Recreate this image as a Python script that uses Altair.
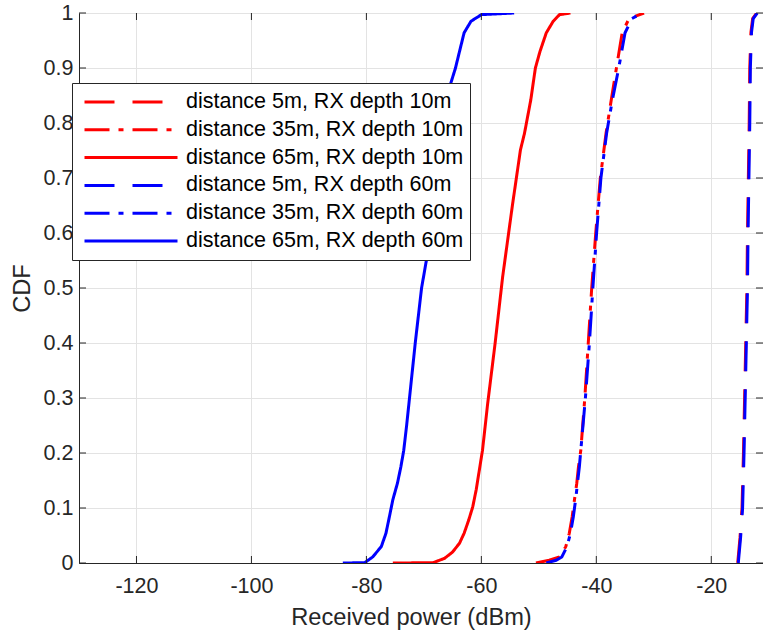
import altair as alt
import pandas as pd

# ---------------- data ----------------
SERIES = [
    "distance 5m, RX depth 10m",
    "distance 35m, RX depth 10m",
    "distance 65m, RX depth 10m",
    "distance 5m, RX depth 60m",
    "distance 35m, RX depth 60m",
    "distance 65m, RX depth 60m",
]
COLORS = ["#ff0000", "#ff0000", "#ff0000", "#0000ff", "#0000ff", "#0000ff"]
DASHES = [[30, 18], [25, 9, 5, 9], [1, 0], [30, 18], [25, 9, 5, 9], [1, 0]]

XTICKS = [-120, -100, -80, -60, -40, -20]
YTICKS = [0, 0.1, 0.2, 0.3, 0.4, 0.5, 0.6, 0.7, 0.8, 0.9, 1]

# distance 5m, RX depth 10m (red dashed, nearly hidden under blue dashed)
red5_x = [-15.4, -15.0, -14.65, -14.4, -14.2, -14.0, -13.8, -13.7, -13.55, -13.4, -13.3, -13.1, -12.8, -12.1]
red5_cdf = [0, 0.046, 0.1, 0.2, 0.3, 0.4, 0.5, 0.6, 0.7, 0.8, 0.9, 0.965, 0.99, 1.0]

# distance 35m, RX depth 10m (red dash-dot)
red35_x = [-50.5, -48.2, -46.4, -45.3, -44.7, -44.2, -43.8, -43.4, -43.1, -42.7, -42.0,
           -41.4, -40.8, -40.1, -39.3, -38.3, -37.4, -36.5, -35.5, -34.3, -31.7]
red35_cdf = [0, 0.005, 0.011, 0.03, 0.054, 0.084, 0.115, 0.145, 0.175, 0.205, 0.3,
             0.4, 0.5, 0.6, 0.7, 0.782, 0.842, 0.9, 0.964, 0.99, 1.0]

# distance 65m, RX depth 10m (red solid)
red65_x = [-75.4, -68.4, -66.4, -65.0, -63.8, -63.0, -62.2, -61.5, -60.9, -60.35, -59.8,
           -58.9, -57.6, -56.3, -54.6, -53.2, -52.5, -51.4, -50.6, -49.8, -48.7, -47.5,
           -46.4, -44.5]
red65_cdf = [0, 0.0005, 0.0085, 0.02, 0.036, 0.054, 0.078, 0.102, 0.133, 0.169, 0.205,
             0.29, 0.4, 0.52, 0.65, 0.751, 0.781, 0.842, 0.9, 0.93, 0.964, 0.985,
             0.997, 1.0]

# distance 5m, RX depth 60m (blue dashed)
blue5_x = [-15.3, -14.9, -14.55, -14.3, -14.1, -13.9, -13.7, -13.6, -13.45, -13.3, -13.2, -13.0, -12.7, -12.0]
blue5_cdf = [0, 0.046, 0.1, 0.2, 0.3, 0.4, 0.5, 0.6, 0.7, 0.8, 0.9, 0.965, 0.99, 1.0]

# distance 35m, RX depth 60m (blue dash-dot)
blue35_x = [-48.7, -47.0, -46.0, -45.1, -44.5, -44.0, -43.6, -42.95, -41.9, -41.2,
            -40.6, -39.95, -39.2, -38.2, -37.2, -36.1, -35.0, -33.8, -32.0]
blue35_cdf = [0, 0.005, 0.011, 0.03, 0.054, 0.084, 0.115, 0.175, 0.3, 0.4,
              0.5, 0.6, 0.7, 0.782, 0.842, 0.9, 0.964, 0.99, 1.0]

# distance 65m, RX depth 60m (blue solid)
blue65_x = [-84.1, -80.3, -78.9, -77.4, -76.6, -76.0, -75.4, -74.6, -74.0, -73.5, -73.0,
            -72.5, -71.5, -70.4, -69.4, -68.2, -66.9, -65.3, -64.5, -63.8, -63.0, -61.8,
            -60.0, -54.3]
blue65_cdf = [0, 0.0005, 0.011, 0.03, 0.054, 0.084, 0.115, 0.145, 0.175, 0.205, 0.25,
              0.3, 0.4, 0.5, 0.56, 0.65, 0.75, 0.873, 0.9, 0.93, 0.964, 0.985,
              0.997, 1.0]

XS = [red5_x, red35_x, red65_x, blue5_x, blue35_x, blue65_x]
CDFS = [red5_cdf, red35_cdf, red65_cdf, blue5_cdf, blue35_cdf, blue65_cdf]

rows = []
for name, xs, cs in zip(SERIES, XS, CDFS):
    for i, (xv, cv) in enumerate(zip(xs, cs)):
        rows.append({"series": name, "x": xv, "cdf": cv, "idx": i})
df = pd.DataFrame(rows)

# ---------------- styling ----------------
FONT = "Liberation Sans"
AXC = "#262626"
GRID = "#e3e3e3"

x_scale = alt.Scale(domain=[-130, -11], nice=False, zero=False)
y_scale = alt.Scale(domain=[0, 1], nice=False, zero=False)

x_axis = alt.Axis(
    values=XTICKS,
    title="Received power (dBm)",
    grid=True,
    gridColor=GRID,
    gridWidth=1,
    tickSize=0,
    domainColor=AXC,
    domainWidth=1,
    labelExpr="'' + datum.value",
    labelFont=FONT,
    labelFontSize=21.5,
    labelColor=AXC,
    labelPadding=12,
    labelFlush=False,
    titleFont=FONT,
    titleFontSize=23.65,
    titleFontWeight="normal",
    titleColor=AXC,
    titlePadding=9,
    titleX=332,
)
y_axis = alt.Axis(
    values=YTICKS,
    title="CDF",
    grid=True,
    gridColor=GRID,
    gridWidth=1,
    tickSize=0,
    domainColor=AXC,
    domainWidth=1,
    labelExpr="'' + datum.value",
    labelFont=FONT,
    labelFontSize=21.5,
    labelColor=AXC,
    labelPadding=6,
    labelFlush=False,
    titleFont=FONT,
    titleFontSize=23.65,
    titleFontWeight="normal",
    titleColor=AXC,
    titlePadding=9,
)

legend = alt.Legend(
    title=None,
    orient="none",
    legendX=-7,
    legendY=70,
    symbolType="stroke",
    symbolSize=8649,
    symbolStrokeWidth=3,
    clipHeight=26,
    rowPadding=1.8,
    padding=6,
    symbolOffset=5,
    labelOffset=7,
    labelFont=FONT,
    labelFontSize=21.5,
    labelColor="#000000",
    labelLimit=500,
    fillColor="#ffffff",
    strokeColor=AXC,
    cornerRadius=0,
)

lines = alt.Chart(df).mark_line(strokeWidth=3, clip=True).encode(
    x=alt.X("x:Q", scale=x_scale, axis=x_axis),
    y=alt.Y("cdf:Q", scale=y_scale, axis=y_axis),
    color=alt.Color("series:N", scale=alt.Scale(domain=SERIES, range=COLORS), legend=legend),
    strokeDash=alt.StrokeDash("series:N", scale=alt.Scale(domain=SERIES, range=DASHES), legend=legend),
    order=alt.Order("idx:Q"),
)

xt = pd.DataFrame({"x": XTICKS})
yt = pd.DataFrame({"cdf": YTICKS})

tick_bottom = alt.Chart(xt).mark_rule(color=AXC, strokeWidth=1).encode(
    x=alt.X("x:Q", scale=x_scale, axis=x_axis), y=alt.value(550), y2=alt.value(543)
)
tick_top = alt.Chart(xt).mark_rule(color=AXC, strokeWidth=1).encode(
    x=alt.X("x:Q", scale=x_scale, axis=x_axis), y=alt.value(0), y2=alt.value(7)
)
tick_left = alt.Chart(yt).mark_rule(color=AXC, strokeWidth=1).encode(
    y=alt.Y("cdf:Q", scale=y_scale, axis=y_axis), x=alt.value(0), x2=alt.value(7)
)
tick_right = alt.Chart(yt).mark_rule(color=AXC, strokeWidth=1).encode(
    y=alt.Y("cdf:Q", scale=y_scale, axis=y_axis), x=alt.value(684), x2=alt.value(677)
)

chart = (
    alt.layer(lines, tick_bottom, tick_top, tick_left, tick_right)
    .properties(
        width=684,
        height=550,
        padding={"left": 79, "top": 13, "right": 0, "bottom": 74},
        autosize=alt.AutoSizeParams(type="none"),
        background="#ffffff",
    )
    .configure_view(stroke=AXC, strokeWidth=1)
)

chart.save("out.html", embed_options={"renderer": "svg", "actions": False})
